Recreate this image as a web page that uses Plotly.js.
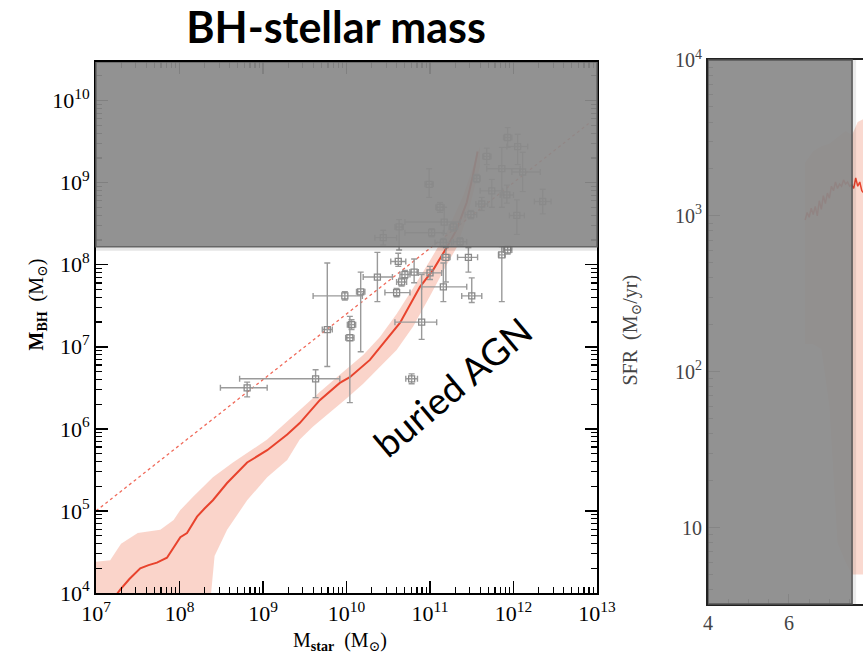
<!DOCTYPE html>
<html><head><meta charset="utf-8">
<script src="https://cdn.plot.ly/plotly-3.0.1.min.js"></script>
<style>html,body{margin:0;padding:0;background:#fff}#chart{width:863px;height:657px}</style>
</head><body><div id="chart"></div>
<script>
// ---- Left panel: BH mass vs stellar mass (log10 values) ----
const medianLogMstar = [7.2,7.29,7.4,7.53,7.63,7.73,7.85,7.97,8.01,8.09,8.21,8.3,8.4,8.57,8.7,8.81,9.05,9.29,9.44,9.68,9.92,10.04,10.28,10.45,10.64,10.88,11.04,11.2,11.32,11.44,11.51,11.57];
const medianLogMbh   = [3.92,4.04,4.17,4.30,4.34,4.37,4.43,4.61,4.68,4.73,4.93,5.03,5.13,5.34,5.48,5.59,5.74,5.93,6.07,6.35,6.56,6.63,6.84,7.05,7.29,7.73,7.94,8.21,8.43,8.76,9.07,9.38];
const bandHiLogMstar = [7.0,7.17,7.3,7.5,7.77,7.93,8.01,8.16,8.4,8.64,9.05,9.44,9.68,9.92,10.2,10.4,10.6,10.8,11.0,11.2,11.4,11.5,11.6];
const bandHiLogMbh   = [4.38,4.40,4.60,4.73,4.77,4.89,5.01,5.17,5.41,5.59,5.87,6.23,6.45,6.66,6.90,7.12,7.40,7.72,8.05,8.40,8.85,9.15,9.45];
const bandLoLogMstar = [7.0,8.3,8.36,8.42,8.57,8.81,9.05,9.29,9.44,9.6,9.8,10.0,10.2,10.4,10.6,10.8,11.0,11.2,11.32,11.45,11.6];
const bandLoLogMbh   = [3.0,3.0,3.8,4.45,4.77,5.13,5.41,5.62,5.87,6.03,6.20,6.37,6.55,6.75,6.96,7.25,7.62,8.0,8.21,8.6,9.2];
const relationLogMstar = [7.0,12.9];
const relationLogMbh   = [5.0,9.72];

// observed galaxies: log Mstar, log Mbh, and error extents (dex)
const ptLogMstar = [9.98,9.77,10.17,10.06,10.04,10.37,10.62,10.60,10.70,10.66,10.81,11.0,11.19,11.16,11.46,11.50,11.86,10.90,10.78,9.63,8.81,
  11.93,12.05,11.68,11.86,12.11,11.56,11.74,11.92,12.35,11.62,11.49,12.04,10.99,11.12,11.17,11.02,10.63,10.44,11.28,11.36,11.16,11.93];
const ptLogMbh = [7.62,7.21,7.67,7.27,7.11,7.85,8.04,7.66,7.88,7.79,7.91,7.90,8.09,7.73,8.09,7.62,8.12,7.30,6.61,6.61,6.50,
  9.55,9.44,9.32,9.17,9.13,9.05,8.90,8.85,8.77,8.74,8.61,8.60,8.98,8.70,8.52,8.39,8.46,8.33,8.46,8.28,8.27,8.18];
const ptXerrLo = [0.38,0.06,0.05,0.05,0.05,0.17,0.09,0.14,0.06,0.06,0.05,0.14,0.05,0.26,0.13,0.12,0.04,0.32,0.07,0.91,0.32,
  0.05,0.13,0.05,0.18,0.13,0.04,0.14,0.08,0.10,0.07,0.07,0.09,0.05,0.05,0.47,0.32,0.05,0.10,0.05,0.08,0.10,0.05];
const ptXerrHi = [0.21,0.06,0.05,0.05,0.05,0.18,0.09,0.16,0.06,0.06,0.05,0.14,0.05,0.28,0.11,0.12,0.04,0.18,0.07,0.29,0.24,
  0.05,0.12,0.05,0.22,0.21,0.04,0.13,0.08,0.10,0.07,0.07,0.09,0.05,0.05,0.19,0.14,0.05,0.16,0.05,0.08,0.10,0.05];
const ptYerrLo = [0.05,0.45,0.73,0.06,0.79,0.30,0.06,0.05,0.05,0.05,0.13,0.08,0.30,0.18,0.18,0.08,0.57,0.21,0.06,0.23,0.11,
  0.12,0.22,0.10,0.47,0.24,0.05,0.20,0.10,0.15,0.08,0.05,0.23,0.16,0.06,0.14,0.05,0.28,0.09,0.05,0.05,0.05,0.05];
const ptYerrHi = [0.05,0.81,0.24,0.06,0.26,0.30,0.10,0.05,0.05,0.05,0.16,0.08,0.12,0.29,0.12,0.22,0.10,0.58,0.06,0.11,0.07,
  0.12,0.15,0.10,0.26,0.24,0.05,0.14,0.12,0.15,0.08,0.05,0.19,0.19,0.06,0.18,0.05,0.09,0.09,0.05,0.05,0.05,0.05];

const xTickVals = [1e7,1e8,1e9,1e10,1e11,1e12,1e13];
const xTickText = ['10<sup>7</sup>','10<sup>8</sup>','10<sup>9</sup>','10<sup>10</sup>','10<sup>11</sup>','10<sup>12</sup>','10<sup>13</sup>'];
const yTickVals = [1e4,1e5,1e6,1e7,1e8,1e9,1e10];
const yTickText = ['10<sup>4</sup>','10<sup>5</sup>','10<sup>6</sup>','10<sup>7</sup>','10<sup>8</sup>','10<sup>9</sup>','10<sup>10</sup>'];
const buriedLogMbh = 8.22;   // shaded region lower bound
const leftLogTop = 10.47;

// ---- Right panel: SFR vs time ----
const sfrT   = [6.40,6.45,6.5,6.55,6.6,6.65,6.7,6.75,6.8,6.85,6.9,6.95,7.0,7.05,7.1,7.15,7.2,7.25,7.3,7.35,7.4,7.45,7.5,7.55,7.6,7.65,7.7,7.75,7.8,7.85];
const sfrVal = [940,1050,980,1120,1020,1150,1000,1250,1100,1350,1200,1400,1300,1550,1450,1650,1500,1600,1550,1700,1600,1650,1550,1580,1500,1750,1550,1650,1450,1400];
const sfrBandT  = [6.4,6.6,6.8,7.0,7.2,7.4,7.56,7.7,7.85];
const sfrBandHi = [2200,2600,2800,2900,3200,3500,3300,4000,4200];
const sfrBandLo = [150,150,140,60,8,6,5,5,5];
const sfrTickVals = [10,100,1000,10000];
const sfrTickText = ['10','10<sup>2</sup>','10<sup>3</sup>','10<sup>4</sup>'];
const tTickVals = [4,6];
const buriedT = 7.56;
const sfrLogRange = [0.51,4];

// ---- helpers ----
const p10 = v => Math.pow(10, v);
const minorLog = (lo, hi) => { const a=[]; for (let d=lo; d<hi; d++) for (let k=2;k<=9;k++) a.push(k*Math.pow(10,d)); return a; };

const traces = [];
traces.push({
  x: bandHiLogMstar.map(p10).concat(bandLoLogMstar.slice().reverse().map(p10)),
  y: bandHiLogMbh.map(p10).concat(bandLoLogMbh.slice().reverse().map(p10)),
  xaxis:'x', yaxis:'y', mode:'lines', fill:'toself', line:{width:0},
  fillcolor:'rgba(245,170,150,0.5)', hoverinfo:'skip', showlegend:false
});
traces.push({
  x: relationLogMstar.map(p10), y: relationLogMbh.map(p10), xaxis:'x', yaxis:'y',
  mode:'lines', line:{color:'#f06a5a', width:1.3, dash:'dot'}, showlegend:false
});
traces.push({
  x: medianLogMstar.map(p10), y: medianLogMbh.map(p10), xaxis:'x', yaxis:'y',
  mode:'lines', line:{color:'#e8432d', width:2}, showlegend:false
});
const px = ptLogMstar.map(p10), py = ptLogMbh.map(p10);
traces.push({
  x: px, y: py, xaxis:'x', yaxis:'y', mode:'markers', showlegend:false,
  marker:{symbol:'square-open', size:6, color:'#8a8a8a', line:{width:1.3, color:'#8a8a8a'}},
  error_x:{type:'data', symmetric:false,
    array: ptLogMstar.map((v,i)=>p10(v+ptXerrHi[i])-px[i]),
    arrayminus: ptLogMstar.map((v,i)=>px[i]-p10(v-ptXerrLo[i])),
    color:'#9a9a9a', thickness:1.4, width:3},
  error_y:{type:'data', symmetric:false,
    array: ptLogMbh.map((v,i)=>p10(v+ptYerrHi[i])-py[i]),
    arrayminus: ptLogMbh.map((v,i)=>py[i]-p10(v-ptYerrLo[i])),
    color:'#9a9a9a', thickness:1.4, width:3}
});
traces.push({
  x: sfrBandT.concat(sfrBandT.slice().reverse()),
  y: sfrBandHi.concat(sfrBandLo.slice().reverse()),
  xaxis:'x2', yaxis:'y2', mode:'lines', fill:'toself', line:{width:0},
  fillcolor:'rgba(245,170,150,0.45)', hoverinfo:'skip', showlegend:false
});
traces.push({
  x: sfrT, y: sfrVal, xaxis:'x2', yaxis:'y2', mode:'lines',
  line:{color:'#e8432d', width:1.5}, showlegend:false
});

const serif = 'Liberation Serif, DejaVu Serif, serif';
const axBase = {showline:true, linecolor:'#000', linewidth:2, ticks:'inside', mirror:'allticks',
  ticklen:12, tickwidth:1.5, tickcolor:'#000', showgrid:false, zeroline:false,
  tickfont:{family:serif, size:22, color:'#000'}};

const layout = {
  width:863, height:657, margin:{l:0,r:0,t:0,b:0}, paper_bgcolor:'#fff', plot_bgcolor:'rgba(0,0,0,0)',
  showlegend:false,
  title:{text:'<b>BH-stellar mass</b>', x:336/863, y:1-28/657, xref:'paper', yref:'paper', xanchor:'center', yanchor:'middle',
    font:{family:'Lato, Open Sans, sans-serif', size:43, color:'#000'}},
  xaxis: Object.assign({}, axBase, {type:'log', range:[7,13], domain:[96/863,597/863], anchor:'y',
    tickmode:'array', tickvals:xTickVals, ticktext:xTickText,
    minor:{tickmode:'array', tickvals:minorLog(7,13), ticks:'inside', ticklen:6, tickwidth:1.2, tickcolor:'#000'}}),
  yaxis: Object.assign({}, axBase, {type:'log', range:[4,leftLogTop], domain:[64/657,595/657], anchor:'x',
    tickmode:'array', tickvals:yTickVals, ticktext:yTickText,
    minor:{tickmode:'array', tickvals:minorLog(4,11), ticks:'inside', ticklen:6, tickwidth:1.2, tickcolor:'#000'}}),
  xaxis2: {type:'linear', range:[4,7.83], domain:[708/863,1], anchor:'y2', showline:true, linecolor:'#222', linewidth:2,
    mirror:true, ticks:'inside', ticklen:10, tickwidth:1, tickcolor:'#444', showgrid:false, zeroline:false,
    tickmode:'array', tickvals:tTickVals, tickfont:{family:serif, size:20, color:'#444'},
    minor:{dtick:0.5, ticks:'inside', ticklen:5, tickwidth:1, tickcolor:'#444'}},
  yaxis2: {type:'log', range:sfrLogRange, domain:[53/657,597/657], anchor:'x2', showline:true, linecolor:'#222', linewidth:2,
    ticks:'inside', ticklen:12, tickwidth:1, tickcolor:'#444', showgrid:false, zeroline:false,
    tickmode:'array', tickvals:sfrTickVals, ticktext:sfrTickText, tickfont:{family:serif, size:20, color:'#444'},
    minor:{tickmode:'array', tickvals:minorLog(0,4), ticks:'inside', ticklen:5, tickwidth:1, tickcolor:'#444'}},
  shapes: [
    {type:'rect', xref:'x domain', yref:'y', x0:0, x1:1, y0:p10(buriedLogMbh-0.05), y1:p10(buriedLogMbh), layer:'above',
      fillcolor:'rgba(0,0,0,0.10)', line:{width:0}},
    {type:'rect', xref:'x domain', yref:'y', x0:0, x1:1, y0:p10(buriedLogMbh), y1:p10(leftLogTop), layer:'above',
      fillcolor:'rgba(138,138,138,0.93)', line:{color:'#666', width:1.5}},
    {type:'rect', xref:'x2', yref:'y2 domain', x0:buriedT, x1:buriedT+0.1, y0:0, y1:1, layer:'above',
      fillcolor:'rgba(0,0,0,0.08)', line:{width:0}},
    {type:'rect', xref:'x2', yref:'y2 domain', x0:4, x1:buriedT, y0:0, y1:1, layer:'above',
      fillcolor:'rgba(138,138,138,0.93)', line:{color:'#555', width:1.5}}
  ],
  annotations: [
    {text:'buried AGN', xref:'paper', yref:'paper', x:452/863, y:1-386/657, showarrow:false, textangle:-40,
      font:{family:'Lato, Open Sans, sans-serif', size:37, color:'#000'}},
    {text:'<b>M<sub>BH</sub></b>  (M<sub>⊙</sub>)', xref:'paper', yref:'paper', x:22/863, y:1-305/657, showarrow:false, textangle:-90,
      font:{family:serif, size:20, color:'#000'}},
    {text:'M<sub><b>star</b></sub>  (M<sub>⊙</sub>)', xref:'paper', yref:'paper', x:340/863, y:1-641/657, yanchor:'middle', showarrow:false,
      font:{family:serif, size:20, color:'#000'}},
    {text:'SFR  (M<sub>⊙</sub>/yr)', xref:'paper', yref:'paper', x:645/863, y:1-330/657, showarrow:false, textangle:-90,
      font:{family:serif, size:20, color:'#444'}}
  ]
};
Plotly.newPlot('chart', traces, layout, {staticPlot:true});
</script></body></html>
